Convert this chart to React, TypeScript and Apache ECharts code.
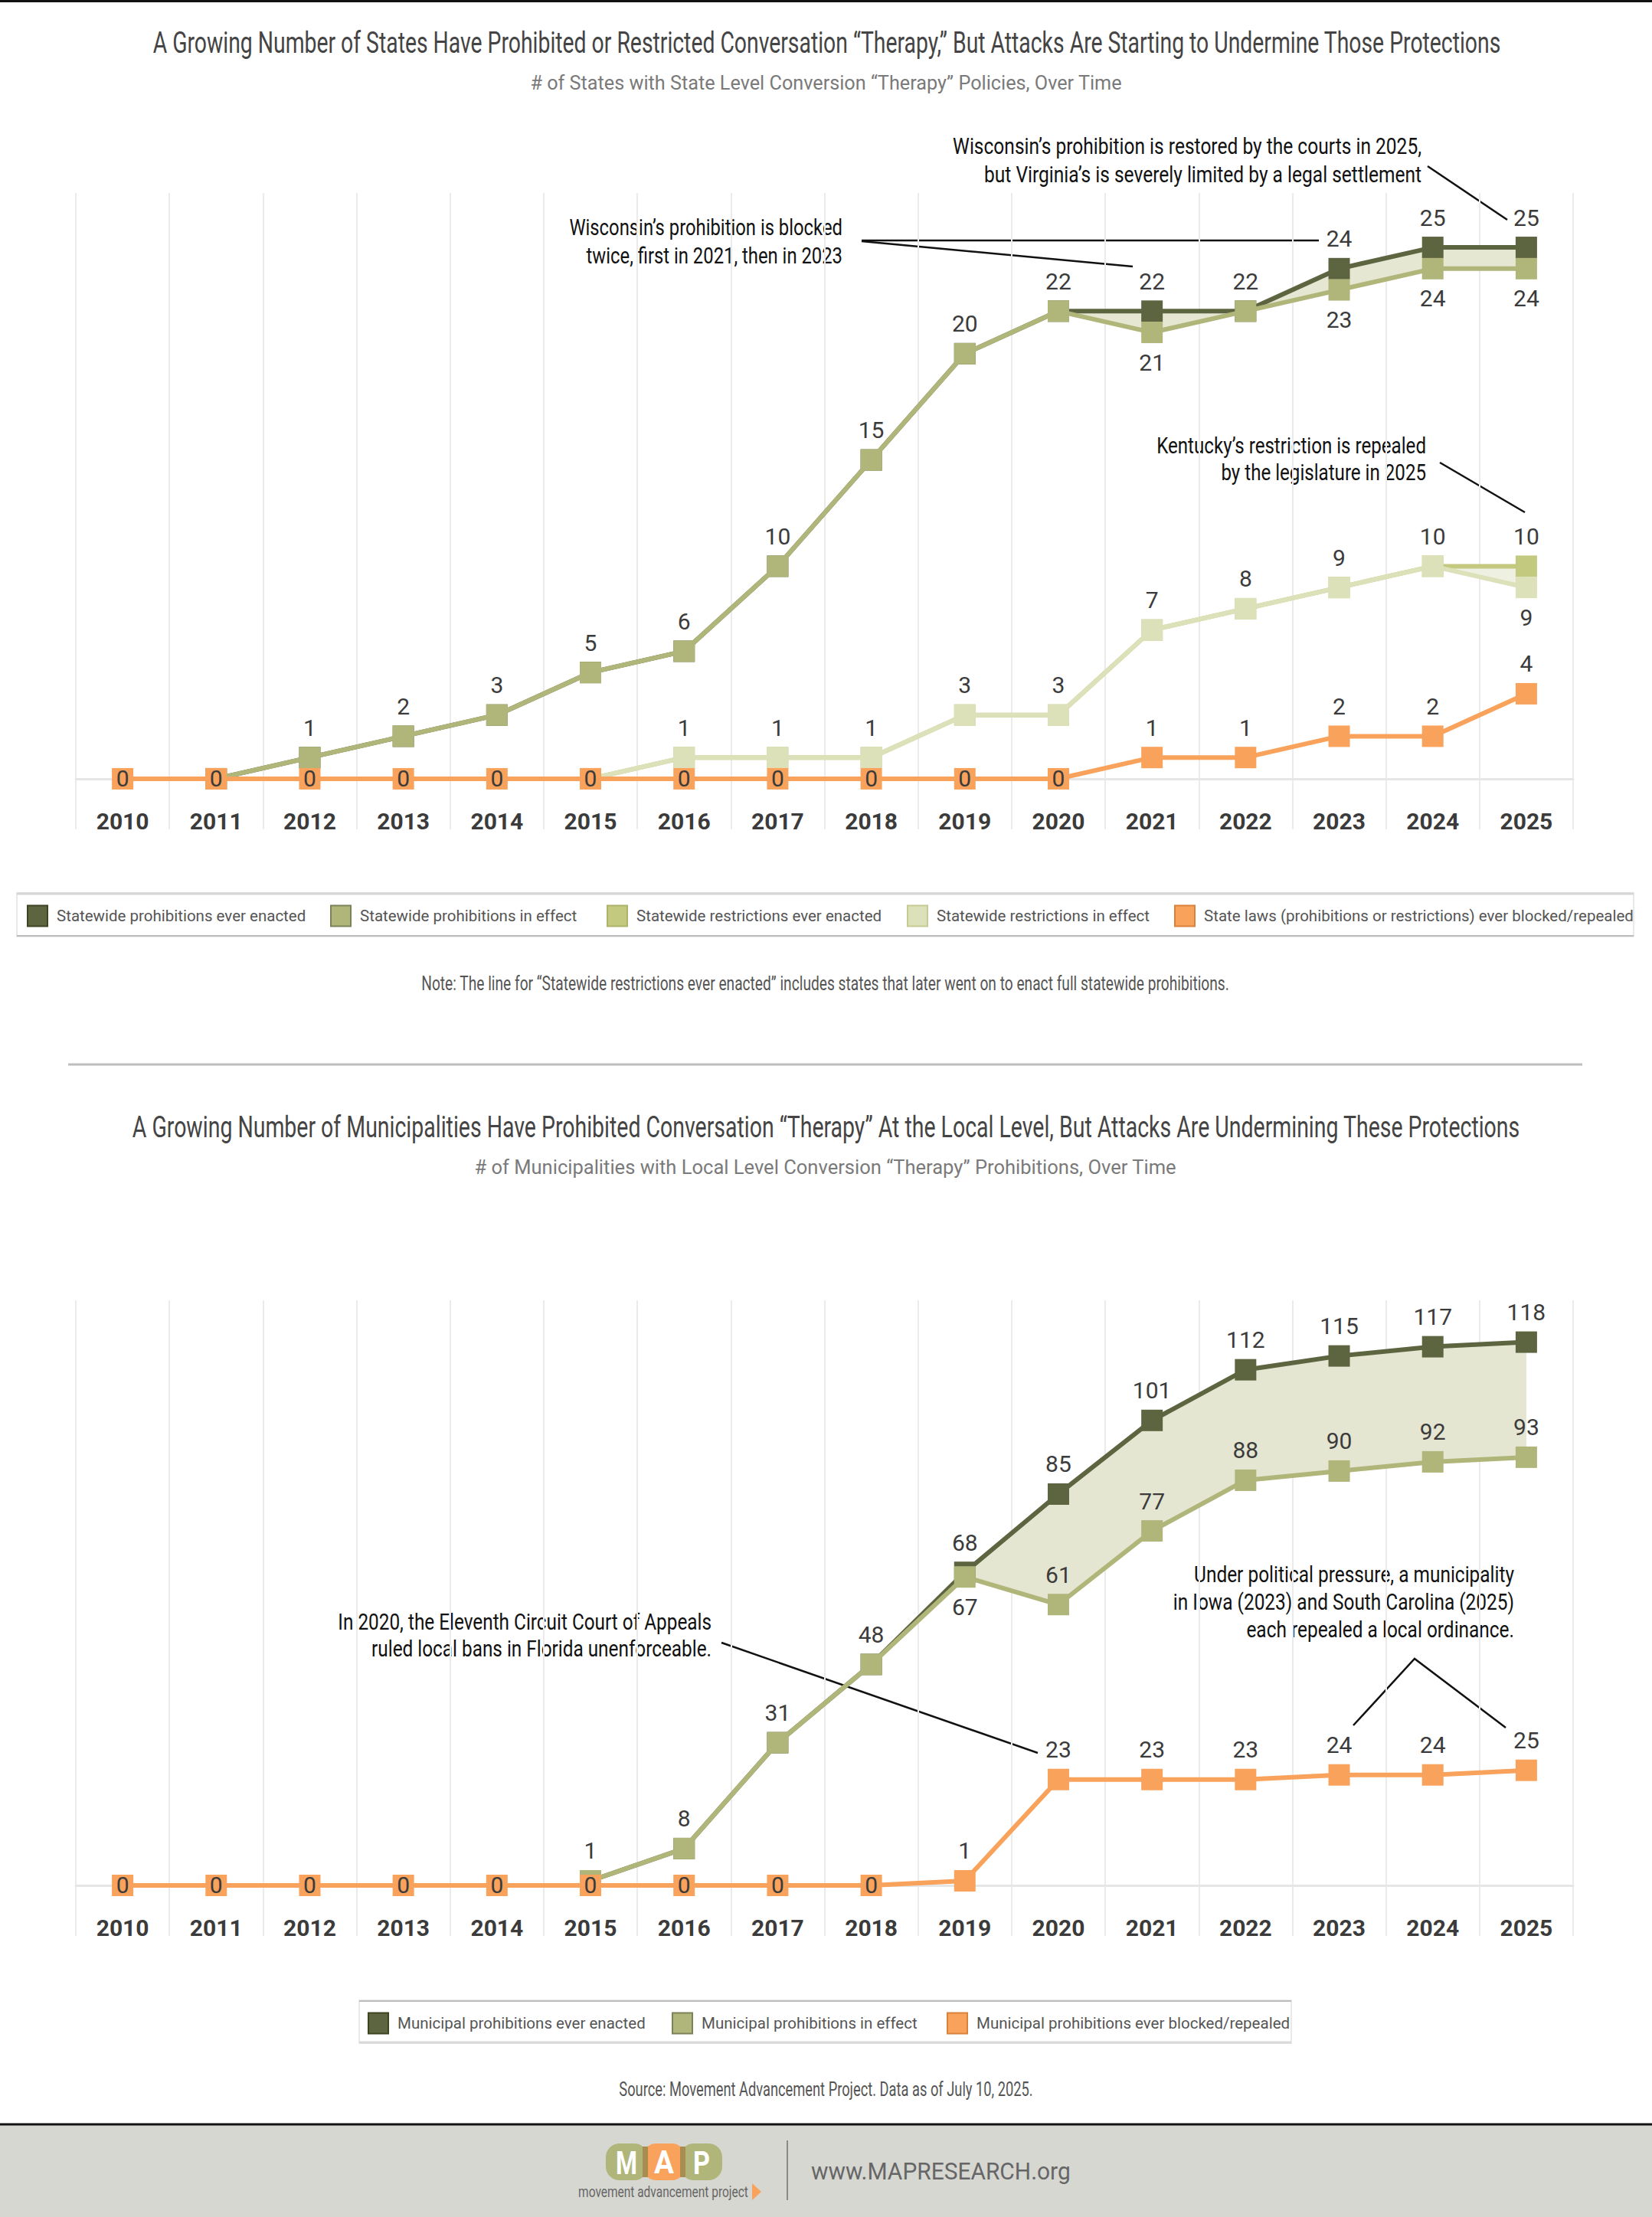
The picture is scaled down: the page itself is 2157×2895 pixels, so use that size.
import React, { useEffect, useRef } from 'react';
import * as echarts from 'echarts';

// ---------- DATA ----------
const years = ['2010', '2011', '2012', '2013', '2014', '2015', '2016', '2017', '2018', '2019', '2020', '2021', '2022', '2023', '2024', '2025'];

// State level (top chart)
const statewideProhibitionsEverEnacted = [null, 0, 1, 2, 3, 5, 6, 10, 15, 20, 22, 22, 22, 24, 25, 25];
const statewideProhibitionsInEffect = [null, 0, 1, 2, 3, 5, 6, 10, 15, 20, 22, 21, 22, 23, 24, 24];
const statewideRestrictionsEverEnacted = [null, null, null, null, null, 0, 1, 1, 1, 3, 3, 7, 8, 9, 10, 10];
const statewideRestrictionsInEffect = [null, null, null, null, null, 0, 1, 1, 1, 3, 3, 7, 8, 9, 10, 9];
const stateLawsBlockedRepealed = [0, 0, 0, 0, 0, 0, 0, 0, 0, 0, 0, 1, 1, 2, 2, 4];

// Municipal level (bottom chart)
const municipalProhibitionsEverEnacted = [null, null, null, null, null, 1, 8, 31, 48, 68, 85, 101, 112, 115, 117, 118];
const municipalProhibitionsInEffect = [null, null, null, null, null, 1, 8, 31, 48, 67, 61, 77, 88, 90, 92, 93];
const municipalProhibitionsBlockedRepealed = [0, 0, 0, 0, 0, 0, 0, 0, 0, 1, 23, 23, 23, 24, 24, 25];

// ---------- STYLE ----------
const FF = "Roboto, 'Noto Sans', sans-serif";
const TXT = '#3b3b3b';
const DARK = '#5d6440';
const DARK_B = '#3e4422';
const OLIVE = '#b0b67a';
const OLIVE_B = '#7d8157';
const REST = '#c3c97f';
const REST_B = '#adb36a';
const LIGHT = '#dde1b9';
const LIGHT_B = '#c6cb93';
const ORANGE = '#f9a25c';
const ORANGE_B = '#d9823c';

const W = 2157;
const H = 2895;
const GRID_LEFT = 99;
const GRID_RIGHT = W - 2054;
const TOP_GRID = { top: 252, height: 831, min: -2.38, max: 27.56 };
const BOT_GRID = { top: 1698, height: 830, min: -10.98, max: 127.08 };
const SYMBOL = 28;

type Pos = string | null;

function points(values: (number | null)[], pos: (i: number) => Pos) {
  return values.map((v, i) => {
    if (v == null) return '-';
    const p = pos(i);
    return p ? { value: v, label: { show: true, position: p } } : { value: v, label: { show: false } };
  });
}

const enactedPos = (enacted: (number | null)[], effect: (number | null)[]) => (i: number): Pos =>
  enacted[i] != null && effect[i] != null && enacted[i] !== effect[i] ? 'top' : null;

const effectPos = (enacted: (number | null)[], effect: (number | null)[], pxPerUnit: number) => (i: number): Pos => {
  const v = effect[i];
  if (v == null || v === 0) return null;
  const d = (enacted[i] ?? v) - v;
  return d > 0 && d * pxPerUnit < 60 ? 'bottom' : 'top';
};

const blockedPos = (vals: (number | null)[]) => (i: number): Pos => (vals[i] === 0 ? 'inside' : 'top');

function lineSeries(name: string, data: any[], color: string, gi: number, z: number) {
  return {
    type: 'line',
    name,
    xAxisIndex: gi,
    yAxisIndex: gi,
    data,
    symbol: 'rect',
    symbolSize: SYMBOL,
    showAllSymbol: true,
    lineStyle: { color, width: 6 },
    itemStyle: { color },
    z,
    silent: true,
    emphasis: { disabled: true },
    label: { fontFamily: FF, fontSize: 30, color: TXT, distance: 10 },
  };
}

function bandSeries(id: string, upper: (number | null)[], lower: (number | null)[], color: string, gi: number) {
  const first = upper.findIndex((u, i) => u != null && lower[i] != null && u !== lower[i]);
  const start = Math.max(0, first - 1);
  const base = lower.map((v, i) => (i >= start && v != null ? v : '-'));
  const diff = upper.map((u, i) => (i >= start && u != null && lower[i] != null ? (u as number) - (lower[i] as number) : '-'));
  const common = {
    type: 'line',
    stack: id,
    xAxisIndex: gi,
    yAxisIndex: gi,
    symbol: 'none',
    lineStyle: { opacity: 0, width: 0 },
    silent: true,
    z: 1,
    emphasis: { disabled: true },
  };
  return [
    { ...common, name: id + '-base', data: base },
    { ...common, name: id + '-diff', data: diff, areaStyle: { color, opacity: 1 } },
  ];
}

const topPx = TOP_GRID.height / (TOP_GRID.max - TOP_GRID.min);
const botPx = BOT_GRID.height / (BOT_GRID.max - BOT_GRID.min);

function xAxis(gi: number) {
  return {
    type: 'category',
    gridIndex: gi,
    data: years,
    boundaryGap: true,
    axisLine: { show: true, onZero: true, lineStyle: { color: '#e6e6e6', width: 3 } },
    axisTick: { show: false },
    axisLabel: { fontFamily: FF, fontSize: 30, fontWeight: 'bold', color: TXT, margin: -26 },
    splitLine: { show: true, lineStyle: { color: '#ebebeb', width: 2 } },
  };
}

function yAxis(gi: number, g: { min: number; max: number }) {
  return { type: 'value', gridIndex: gi, min: g.min, max: g.max, show: false };
}

function legendItem(name: string, color: string, border: string, left: number, top: number) {
  return {
    data: [{ name, itemStyle: { color, borderColor: border, borderWidth: 2 } }],
    left,
    top,
    padding: 0,
    icon: 'rect',
    itemWidth: 26,
    itemHeight: 27,
    selectedMode: false,
    textStyle: { fontFamily: FF, fontSize: 20.5, color: '#555', padding: [0, 0, 0, 7] },
  };
}

// ---- text helpers: the original uses a condensed face, so texts are squeezed horizontally to the reference width ----
let measureCtx: CanvasRenderingContext2D | null = null;
function measureLine(t: string, size: number, weight: string) {
  if (!measureCtx) measureCtx = document.createElement('canvas').getContext('2d');
  if (!measureCtx) return t.length * size * 0.5;
  measureCtx.font = `${weight} ${size}px ${FF}`;
  return measureCtx.measureText(t).width;
}

function fitText(t: string, x: number, y: number, size: number, color: string, align: string, target: number, opts: any = {}) {
  const weight = opts.fontWeight || 'normal';
  const lineIdx = opts.fitLine || 0;
  const line = t.split('\n')[lineIdx];
  const sx = Math.min(1.2, target / measureLine(line, size, weight));
  return {
    type: 'text',
    x,
    y,
    scaleX: sx,
    silent: true,
    style: {
      text: t,
      fill: color,
      fontSize: size,
      fontFamily: FF,
      fontWeight: weight,
      align,
      verticalAlign: 'middle',
      lineHeight: opts.lineHeight,
    },
  };
}

const seg = (x1: number, y1: number, x2: number, y2: number, color: string, w: number) => ({
  type: 'line',
  silent: true,
  shape: { x1, y1, x2, y2 },
  style: { stroke: color, lineWidth: w },
});

const ANN = 29.5;
const INK = '#111';

function buildGraphics(): any[] {
  return [
    { type: 'rect', shape: { x: 0, y: 0, width: W, height: 3 }, style: { fill: '#111' }, silent: true },
    fitText('A Growing Number of States Have Prohibited or Restricted Conversation “Therapy,” But Attacks Are Starting to Undermine Those Protections', 1079.5, 55, 39, '#444', 'center', 1761),
    fitText('# of States with State Level Conversion “Therapy” Policies, Over Time', 1078.5, 108, 26, '#7a7a7a', 'center', 773),
    // annotations top chart
    fitText('Wisconsin’s prohibition is restored by the courts in 2025,\nbut Virginia’s is severely limited by a legal settlement', 1856, 210, ANN, INK, 'right', 612, { lineHeight: 37 }),
    seg(1864, 217, 1968, 287, INK, 2.5),
    fitText('Wisconsin’s prohibition is blocked\ntwice, first in 2021, then in 2023', 1100, 316, ANN, INK, 'right', 357, { lineHeight: 37 }),
    seg(1125, 314, 1722, 314, INK, 2.5),
    seg(1125, 315, 1479, 348, INK, 2.5),
    fitText('Kentucky’s restriction is repealed\nby the legislature in 2025', 1862, 600, ANN, INK, 'right', 352, { lineHeight: 35 }),
    seg(1880, 604, 1991, 669, INK, 2.5),
    // top legend box
    { type: 'rect', shape: { x: 22, y: 1166, width: 2111, height: 57 }, style: { fill: '#fff', stroke: '#e2e2e2', lineWidth: 1.5 }, silent: true },
    seg(22, 1167, 2133, 1167, '#d6d6d6', 3),
    seg(22, 1222, 2133, 1222, '#bdbdbd', 2),
    fitText('Note: The line for “Statewide restrictions ever enacted” includes states that later went on to enact full statewide prohibitions.', 1077.5, 1284, 25, '#555', 'center', 1055),
    seg(89, 1390, 2066, 1390, '#bdbdbd', 3),
    fitText('A Growing Number of Municipalities Have Prohibited Conversation “Therapy” At the Local Level, But Attacks Are Undermining These Protections', 1078.5, 1471, 39, '#444', 'center', 1813),
    fitText('# of Municipalities with Local Level Conversion “Therapy” Prohibitions, Over Time', 1077.5, 1524, 26, '#7a7a7a', 'center', 917),
    // annotations bottom chart
    fitText('In 2020, the Eleventh Circuit Court of Appeals\nruled local bans in Florida unenforceable.', 929, 2136, ANN, INK, 'right', 488, { lineHeight: 35 }),
    seg(942, 2145, 1355, 2289, INK, 2.5),
    fitText('Under political pressure, a municipality\nin Iowa (2023) and South Carolina (2025)\neach repealed a local ordinance.', 1977, 2092, ANN, INK, 'right', 445, { lineHeight: 36, fitLine: 1 }),
    { type: 'polyline', silent: true, shape: { points: [[1767, 2253], [1847, 2166], [1966, 2256]] }, style: { stroke: INK, lineWidth: 2.5, fill: null } },
    // bottom legend box
    { type: 'rect', shape: { x: 469, y: 2612, width: 1217, height: 56 }, style: { fill: '#fff', stroke: '#e2e2e2', lineWidth: 1.5 }, silent: true },
    seg(469, 2613, 1686, 2613, '#bdbdbd', 2),
    seg(469, 2667, 1686, 2667, '#d9d9d9', 3),
    fitText('Source: Movement Advancement Project. Data as of July 10, 2025.', 1078.5, 2728, 25, '#555', 'center', 541),
    // footer
    { type: 'rect', shape: { x: 0, y: 2774, width: W, height: H - 2774 }, style: { fill: '#d6d7d1' }, silent: true },
    seg(0, 2774, W, 2774, '#111', 3),
    { type: 'rect', shape: { x: 791, y: 2799, width: 55, height: 48, r: 18 }, style: { fill: OLIVE }, silent: true },
    { type: 'rect', shape: { x: 888, y: 2799, width: 55, height: 48, r: 18 }, style: { fill: OLIVE }, silent: true },
    { type: 'rect', shape: { x: 839, y: 2799, width: 56, height: 48, r: 18 }, style: { fill: ORANGE }, silent: true },
    { type: 'rect', shape: { x: 839, y: 2803, width: 7, height: 40 }, style: { fill: '#a98c50' }, silent: true },
    { type: 'rect', shape: { x: 888, y: 2803, width: 7, height: 40 }, style: { fill: '#a98c50' }, silent: true },
    fitText('M', 818, 2824, 42, '#fff', 'center', 28, { fontWeight: 'bold' }),
    fitText('A', 867, 2824, 42, '#fff', 'center', 26, { fontWeight: 'bold' }),
    fitText('P', 916, 2824, 42, '#fff', 'center', 22, { fontWeight: 'bold' }),
    fitText('movement advancement project', 866, 2862, 20, '#666', 'center', 222),
    { type: 'polygon', silent: true, shape: { points: [[982, 2851], [982, 2873], [994, 2862]] }, style: { fill: ORANGE } },
    seg(1028, 2795, 1028, 2873, '#8a8a8a', 2),
    fitText('www.MAPRESEARCH.org', 1059, 2835, 31, '#666', 'left', 339),
  ];
}

function buildOption(): any {
  return {
    animation: false,
    backgroundColor: '#ffffff',
    textStyle: { fontFamily: FF },
    grid: [
      { left: GRID_LEFT, right: GRID_RIGHT, top: TOP_GRID.top, height: TOP_GRID.height },
      { left: GRID_LEFT, right: GRID_RIGHT, top: BOT_GRID.top, height: BOT_GRID.height },
    ],
    xAxis: [xAxis(0), xAxis(1)],
    yAxis: [yAxis(0, TOP_GRID), yAxis(1, BOT_GRID)],
    legend: [
      legendItem('Statewide prohibitions ever enacted', DARK, DARK_B, 35, 1181.5),
      legendItem('Statewide prohibitions in effect', OLIVE, OLIVE_B, 431, 1181.5),
      legendItem('Statewide restrictions ever enacted', REST, REST_B, 792, 1181.5),
      legendItem('Statewide restrictions in effect', LIGHT, LIGHT_B, 1184, 1181.5),
      legendItem('State laws (prohibitions or restrictions) ever blocked/repealed', ORANGE, ORANGE_B, 1533, 1181.5),
      legendItem('Municipal prohibitions ever enacted', DARK, DARK_B, 480, 2627.5),
      legendItem('Municipal prohibitions in effect', OLIVE, OLIVE_B, 877, 2627.5),
      legendItem('Municipal prohibitions ever blocked/repealed', ORANGE, ORANGE_B, 1236, 2627.5),
    ],
    graphic: buildGraphics(),
    series: [
      ...bandSeries('bandStateProh', statewideProhibitionsEverEnacted, statewideProhibitionsInEffect, '#e5e7d3', 0),
      ...bandSeries('bandStateRest', statewideRestrictionsEverEnacted, statewideRestrictionsInEffect, '#eef0e2', 0),
      lineSeries('Statewide prohibitions ever enacted', points(statewideProhibitionsEverEnacted, enactedPos(statewideProhibitionsEverEnacted, statewideProhibitionsInEffect)), DARK, 0, 2),
      lineSeries('Statewide prohibitions in effect', points(statewideProhibitionsInEffect, effectPos(statewideProhibitionsEverEnacted, statewideProhibitionsInEffect, topPx)), OLIVE, 0, 3),
      lineSeries('Statewide restrictions ever enacted', points(statewideRestrictionsEverEnacted, enactedPos(statewideRestrictionsEverEnacted, statewideRestrictionsInEffect)), REST, 0, 4),
      lineSeries('Statewide restrictions in effect', points(statewideRestrictionsInEffect, effectPos(statewideRestrictionsEverEnacted, statewideRestrictionsInEffect, topPx)), LIGHT, 0, 5),
      lineSeries('State laws (prohibitions or restrictions) ever blocked/repealed', points(stateLawsBlockedRepealed, blockedPos(stateLawsBlockedRepealed)), ORANGE, 0, 6),
      ...bandSeries('bandMuni', municipalProhibitionsEverEnacted, municipalProhibitionsInEffect, '#e4e6d1', 1),
      lineSeries('Municipal prohibitions ever enacted', points(municipalProhibitionsEverEnacted, enactedPos(municipalProhibitionsEverEnacted, municipalProhibitionsInEffect)), DARK, 1, 2),
      lineSeries('Municipal prohibitions in effect', points(municipalProhibitionsInEffect, effectPos(municipalProhibitionsEverEnacted, municipalProhibitionsInEffect, botPx)), OLIVE, 1, 3),
      lineSeries('Municipal prohibitions ever blocked/repealed', points(municipalProhibitionsBlockedRepealed, blockedPos(municipalProhibitionsBlockedRepealed)), ORANGE, 1, 6),
    ],
  };
}

export default function App() {
  const ref = useRef<HTMLDivElement>(null);
  useEffect(() => {
    if (!ref.current) return;
    const chart = echarts.init(ref.current, null, { renderer: 'svg' });
    chart.setOption(buildOption());
    return () => chart.dispose();
  }, []);
  return <div ref={ref} style={{ position: 'absolute', left: 0, top: 0, width: W, height: H, background: '#fff' }} />;
}
